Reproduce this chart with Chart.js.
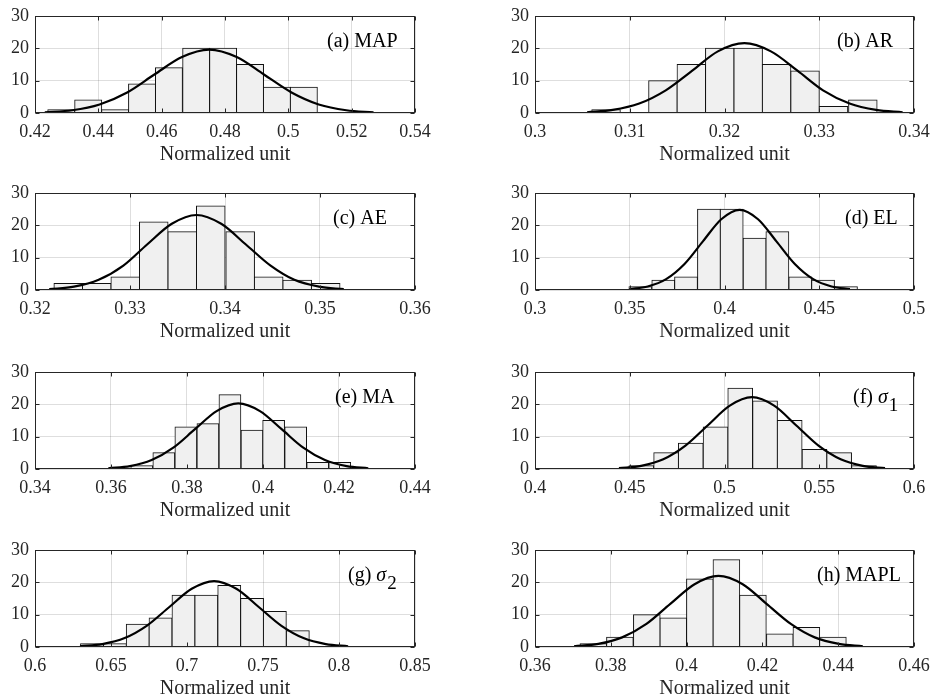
<!DOCTYPE html>
<html>
<head>
<meta charset="utf-8">
<script src="https://cdn.jsdelivr.net/npm/chart.js@4.4.0/dist/chart.umd.min.js"></script>
<style>
  html, body { margin: 0; padding: 0; background: #fff; overflow: hidden; }
  body { width: 932px; height: 700px; position: relative; }
  canvas { position: absolute; }
</style>
</head>
<body>
<script>
// ---- values (bin centres, counts, fitted curve, ticks) ----
const yTicks = [0, 10, 20, 30];

const mapCenters = [0.4283, 0.4368, 0.4453, 0.4538, 0.4623, 0.4709, 0.4794, 0.4879, 0.4964, 0.5049];
const mapCounts = [1, 4, 1, 9, 14, 20, 20, 15, 8, 8];
const mapCurveX = [0.4231, 0.4318, 0.4404, 0.4491, 0.4577, 0.4664, 0.4750, 0.4837, 0.4923, 0.5010, 0.5096, 0.5183, 0.5269];
const mapCurveY = [0.22, 0.86, 2.65, 6.36, 11.9, 17.3, 19.6, 17.3, 11.9, 6.36, 2.65, 0.86, 0.22];
const mapTicks = [0.42, 0.44, 0.46, 0.48, 0.5, 0.52, 0.54];

const arCenters = [0.3075, 0.3105, 0.3135, 0.3165, 0.3195, 0.3225, 0.3255, 0.3285, 0.3315, 0.3346];
const arCounts = [1, 0, 10, 15, 20, 20, 15, 13, 2, 4];
const arCurveX = [0.3055, 0.3082, 0.3110, 0.3138, 0.3166, 0.3193, 0.3221, 0.3249, 0.3277, 0.3304, 0.3332, 0.3360, 0.3388];
const arCurveY = [0.24, 0.95, 2.92, 7.01, 13.1, 19.06, 21.6, 19.06, 13.1, 7.01, 2.92, 0.95, 0.24];
const arTicks = [0.3, 0.31, 0.32, 0.33, 0.34];

const aeCenters = [0.3235, 0.3265, 0.3295, 0.3325, 0.3355, 0.3385, 0.3416, 0.3446, 0.3476, 0.3506];
const aeCounts = [2, 2, 4, 21, 18, 26, 18, 4, 3, 2];
const aeCurveX = [0.3215, 0.3241, 0.3267, 0.3293, 0.3318, 0.3344, 0.3370, 0.3396, 0.3422, 0.3448, 0.3473, 0.3499, 0.3525];
const aeCurveY = [0.26, 1.02, 3.14, 7.53, 14.07, 20.47, 23.2, 20.47, 14.07, 7.53, 3.14, 1.02, 0.26];
const aeTicks = [0.32, 0.33, 0.34, 0.35, 0.36];

const elCenters = [0.3556, 0.3677, 0.3797, 0.3918, 0.4038, 0.4159, 0.4279, 0.4400, 0.4520, 0.4641];
const elCounts = [1, 3, 4, 25, 25, 16, 18, 4, 3, 1];
const elCurveX = [0.3498, 0.3595, 0.3692, 0.3789, 0.3886, 0.3983, 0.4080, 0.4177, 0.4274, 0.4371, 0.4468, 0.4565, 0.4662];
const elCurveY = [0.28, 1.09, 3.36, 8.05, 15.04, 21.89, 24.8, 21.89, 15.04, 8.05, 3.36, 1.09, 0.28];
const elTicks = [0.3, 0.35, 0.4, 0.45, 0.5];

const maCenters = [0.3681, 0.3739, 0.3797, 0.3855, 0.3913, 0.3971, 0.4028, 0.4086, 0.4144, 0.4202];
const maCounts = [1, 5, 13, 14, 23, 12, 15, 13, 2, 2];
const maCurveX = [0.3593, 0.3650, 0.3707, 0.3764, 0.3821, 0.3878, 0.3935, 0.3992, 0.4049, 0.4106, 0.4163, 0.4220, 0.4277];
const maCurveY = [0.23, 0.89, 2.75, 6.59, 12.31, 17.91, 20.3, 17.91, 12.31, 6.59, 2.75, 0.89, 0.23];
const maTicks = [0.34, 0.36, 0.38, 0.4, 0.42, 0.44];

const s1Centers = [0.4561, 0.4692, 0.4822, 0.4953, 0.5083, 0.5214, 0.5344, 0.5475, 0.5605, 0.5736];
const s1Counts = [1, 5, 8, 13, 25, 21, 15, 6, 5, 1];
const s1CurveX = [0.4443, 0.4560, 0.4677, 0.4794, 0.4911, 0.5028, 0.5145, 0.5262, 0.5379, 0.5496, 0.5613, 0.5730, 0.5847];
const s1CurveY = [0.25, 0.97, 3.0, 7.21, 13.46, 19.59, 22.2, 19.59, 13.46, 7.21, 3.0, 0.97, 0.25];
const s1Ticks = [0.4, 0.45, 0.5, 0.55, 0.6];

const s2Centers = [0.6375, 0.6526, 0.6676, 0.6826, 0.6977, 0.7127, 0.7278, 0.7428, 0.7578, 0.7729];
const s2Counts = [1, 1, 7, 9, 16, 16, 19, 15, 11, 5];
const s2CurveX = [0.6296, 0.6443, 0.6590, 0.6737, 0.6884, 0.7031, 0.7178, 0.7325, 0.7472, 0.7619, 0.7766, 0.7913, 0.8060];
const s2CurveY = [0.23, 0.9, 2.76, 6.62, 12.37, 18.0, 20.4, 18.0, 12.37, 6.62, 2.76, 0.9, 0.23];
const s2Ticks = [0.6, 0.65, 0.7, 0.75, 0.8, 0.85];

const maplCenters = [0.3754, 0.3824, 0.3895, 0.3965, 0.4035, 0.4105, 0.4175, 0.4246, 0.4316, 0.4386];
const maplCounts = [1, 3, 10, 9, 21, 27, 16, 4, 6, 3];
const maplCurveX = [0.3703, 0.3767, 0.3830, 0.3894, 0.3957, 0.4021, 0.4084, 0.4148, 0.4211, 0.4275, 0.4338, 0.4402, 0.4465];
const maplCurveY = [0.24, 0.97, 2.98, 7.14, 13.34, 19.42, 22.0, 19.42, 13.34, 7.14, 2.98, 0.97, 0.24];
const maplTicks = [0.36, 0.38, 0.4, 0.42, 0.44, 0.46];

const panels = [
  { label: "(a) MAP", centers: mapCenters, counts: mapCounts, cx: mapCurveX, cy: mapCurveY, ticks: mapTicks },
  { label: "(b) AR", centers: arCenters, counts: arCounts, cx: arCurveX, cy: arCurveY, ticks: arTicks },
  { label: "(c) AE", centers: aeCenters, counts: aeCounts, cx: aeCurveX, cy: aeCurveY, ticks: aeTicks },
  { label: "(d) EL", centers: elCenters, counts: elCounts, cx: elCurveX, cy: elCurveY, ticks: elTicks },
  { label: "(e) MA", centers: maCenters, counts: maCounts, cx: maCurveX, cy: maCurveY, ticks: maTicks },
  { label: "(f) ", sym: "σ", sub: "1", centers: s1Centers, counts: s1Counts, cx: s1CurveX, cy: s1CurveY, ticks: s1Ticks },
  { label: "(g) ", sym: "σ", sub: "2", centers: s2Centers, counts: s2Counts, cx: s2CurveX, cy: s2CurveY, ticks: s2Ticks },
  { label: "(h) MAPL", centers: maplCenters, counts: maplCounts, cx: maplCurveX, cy: maplCurveY, ticks: maplTicks },
];

// ---- layout / style ----
const FONT = "'Liberation Serif', 'Times New Roman', serif";
const TEXT = "#262626";
const GRID = "rgba(0,0,0,0.13)";
const rowTops = [0, 177, 356, 534];
const axisLeft = [35, 69];
const padRight = [51, 18];
const labelX = [327, 371, 333, 379, 335, 387, 348, 351];

function framePlugin() {
  return {
    id: "frame",
    afterDraw(chart) {
      const { ctx, chartArea: a, scales } = chart;
      const l = Math.round(a.left) + 0.5, t = Math.round(a.top) + 0.5;
      const r = Math.round(a.right) - 0.5, b = Math.round(a.bottom) - 0.5;
      ctx.save();
      ctx.strokeStyle = TEXT;
      ctx.lineWidth = 1;
      ctx.beginPath();
      scales.x.ticks.forEach((tk) => {
        const px = Math.round(scales.x.getPixelForValue(tk.value)) + 0.5;
        ctx.moveTo(px, b); ctx.lineTo(px, b - 4);
        ctx.moveTo(px, t); ctx.lineTo(px, t + 4);
      });
      scales.y.ticks.forEach((tk) => {
        const py = Math.round(scales.y.getPixelForValue(tk.value)) + 0.5;
        ctx.moveTo(l, py); ctx.lineTo(l + 4, py);
        ctx.moveTo(r, py); ctx.lineTo(r - 4, py);
      });
      ctx.stroke();
      ctx.strokeRect(l, t, r - l, b - t);
      ctx.restore();
    },
  };
}

function labelPlugin(p, x) {
  return {
    id: "panelLabel",
    afterDraw(chart) {
      const { ctx, chartArea: a } = chart;
      const base = a.top + 31;
      ctx.save();
      ctx.fillStyle = "#000";
      ctx.textBaseline = "alphabetic";
      ctx.textAlign = "left";
      ctx.font = "20px " + FONT;
      ctx.fillText(p.label, x, base);
      if (p.sym) {
        let cx = x + ctx.measureText(p.label).width;
        ctx.font = "italic 20px " + FONT;
        ctx.fillText(p.sym, cx, base);
        cx += ctx.measureText(p.sym).width + 1;
        ctx.font = "19px " + FONT;
        ctx.fillText(p.sub, cx, base + 8);
      }
      ctx.restore();
    },
  };
}

panels.forEach((p, i) => {
  const col = i % 2, row = Math.floor(i / 2);
  const cv = document.createElement("canvas");
  cv.width = 466;
  cv.height = 175;
  cv.style.left = col * 466 + "px";
  cv.style.top = rowTops[row] + "px";
  document.body.appendChild(cv);

  const bars = p.centers.map((x, k) => ({ x: x, y: p.counts[k] }));
  const curve = p.cx.map((x, k) => ({ x: x, y: p.cy[k] }));

  new Chart(cv, {
    type: "bar",
    data: {
      datasets: [
        {
          type: "line",
          data: curve,
          borderColor: "#000",
          borderWidth: 2.2,
          pointRadius: 0,
          cubicInterpolationMode: "monotone",
          order: 0,
        },
        {
          type: "bar",
          data: bars,
          backgroundColor: "#f0f0f0",
          borderColor: "#111",
          borderWidth: 1,
          inflateAmount: 0.5,
          barPercentage: 1,
          categoryPercentage: 1,
          order: 1,
        },
      ],
    },
    options: {
      responsive: false,
      animation: false,
      layout: { padding: { top: 16, bottom: 4, left: 0, right: padRight[col] } },
      plugins: { legend: { display: false }, tooltip: { enabled: false } },
      scales: {
        x: {
          type: "linear",
          min: p.ticks[0],
          max: p.ticks[p.ticks.length - 1],
          offset: false,
          afterBuildTicks: (s) => { s.ticks = p.ticks.map((v) => ({ value: v })); },
          afterFit: (s) => {
            s.height = 58;
            s.paddingLeft = 0;
            s.paddingRight = 0;
          },
          grid: { color: GRID, drawTicks: false, offset: false },
          border: { display: false },
          ticks: {
            font: { family: FONT, size: 18 },
            color: TEXT,
            padding: 8,
            maxRotation: 0,
            autoSkip: false,
            callback: (v) => String(+Number(v).toFixed(4)),
          },
          title: {
            display: true,
            text: "Normalized unit",
            font: { family: FONT, size: 20 },
            color: TEXT,
            padding: { top: 0, bottom: 4 },
          },
        },
        y: {
          min: 0,
          max: 30,
          afterBuildTicks: (s) => { s.ticks = yTicks.map((v) => ({ value: v })); },
          afterFit: (s) => {
            s.width = axisLeft[col];
            s.paddingTop = 0;
            s.paddingBottom = 0;
          },
          grid: { color: GRID, drawTicks: false },
          border: { display: false },
          ticks: { font: { family: FONT, size: 18 }, color: TEXT, padding: 6 },
        },
      },
    },
    plugins: [framePlugin(), labelPlugin(p, labelX[i])],
  });
});
</script>
</body>
</html>
